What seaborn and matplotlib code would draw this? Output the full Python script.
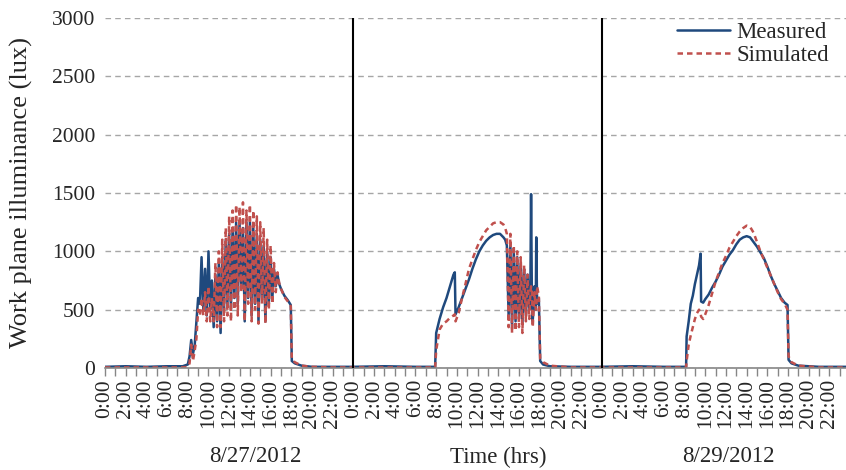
import numpy as np
import pandas as pd
import matplotlib
matplotlib.use("Agg")
import matplotlib.pyplot as plt
import seaborn as sns

# ---------------- data ----------------
series_names = ["Measured", "Simulated"]
group_labels = ["8/27/2012", "Time (hrs)", "8/29/2012"]
group_label_hours = [14.5, 38.0, 60.2]
hour_labels = ["0:00", "2:00", "4:00", "6:00", "8:00", "10:00",
               "12:00", "14:00", "16:00", "18:00", "20:00", "22:00"]

# Day 1 (8/27/2012): hours of day, lux
d1_t = [0, 2, 4, 6, 7.5,
        8.0, 8.17, 8.33, 8.5, 8.67, 8.83,
        9.0, 9.17, 9.33, 9.5, 9.67, 9.83,
        10.0, 10.17, 10.33, 10.5, 10.67, 10.83,
        11.0, 11.17, 11.33, 11.5, 11.67, 11.83,
        12.0, 12.17, 12.33, 12.5, 12.67, 12.83,
        13.0, 13.17, 13.33, 13.5, 13.67, 13.83,
        14.0, 14.17, 14.33, 14.5, 14.67, 14.83,
        15.0, 15.17, 15.33, 15.5, 15.67, 15.83,
        16.0, 16.17, 16.33, 16.5, 16.67, 16.83,
        17.0, 17.33, 17.67, 17.95,
        18.05, 18.33, 19.0, 20.0, 22.0, 23.9]
d1_meas = [10, 15, 10, 15, 15,
           30, 100, 240, 120, 200, 400,
           600, 550, 950, 500, 850, 450,
           1000, 500, 750, 350, 800, 400,
           900, 300, 950, 500, 1100, 550,
           1150, 500, 1200, 600, 1250, 550,
           1250, 700, 1200, 400, 1250, 600,
           1250, 450, 1200, 550, 1150, 400,
           1100, 600, 1050, 400, 1000, 550,
           950, 600, 850, 700, 800, 720,
           680, 620, 580, 540,
           60, 40, 20, 10, 10, 10]
d1_sim = [5, 5, 5, 5, 5,
          10, 40, 200, 60, 150, 250,
          500, 450, 600, 450, 650, 400,
          700, 400, 600, 400, 900, 350,
          1000, 350, 1100, 400, 1200, 450,
          1300, 400, 1350, 500, 1400, 450,
          1380, 650, 1420, 400, 1350, 550,
          1400, 400, 1350, 500, 1300, 380,
          1250, 550, 1200, 380, 1100, 500,
          1050, 550, 900, 650, 820, 730,
          680, 610, 570, 530,
          80, 50, 20, 10, 5, 5]

# Day 2 (8/28/2012)
d2_t = [0, 3, 6, 7.9,
        8.0, 8.33, 8.67, 9.0, 9.33, 9.67, 9.8, 9.87,
        10.17, 10.5, 10.83, 11.17, 11.5, 11.83, 12.17, 12.5, 12.83, 13.17,
        13.5, 13.83, 14.17, 14.5,
        14.67, 14.83, 15.0, 15.17, 15.33, 15.5, 15.67, 15.83, 16.0, 16.17,
        16.33, 16.5, 16.67, 16.83, 17.0,
        17.1, 17.17, 17.25, 17.33, 17.5, 17.62, 17.67, 17.75, 17.92,
        18.05, 18.33, 19.0, 21.0, 23.9]
d2_meas = [10, 15, 10, 10,
           300, 420, 520, 600, 700, 800, 820, 460,
           520, 600, 680, 760, 850, 930, 1000, 1050, 1090, 1120,
           1140, 1150, 1150, 1120,
           1100, 1050, 450, 1050, 350, 1000, 400, 950, 420, 900,
           380, 850, 450, 800, 500,
           650, 1490, 600, 400, 700, 500, 1120, 550, 600,
           60, 30, 15, 10, 10]
d2_sim = [5, 5, 5, 5,
          150, 330, 380, 400, 430, 450, 460, 400,
          470, 600, 720, 850, 930, 1010, 1080, 1130, 1180, 1210,
          1240, 1250, 1250, 1230,
          1200, 1150, 350, 1150, 300, 1050, 320, 1000, 350, 950,
          300, 880, 400, 800, 420,
          650, 700, 650, 350, 650, 500, 500, 700, 620,
          80, 50, 20, 5, 5]

# Day 3 (8/29/2012)
d3_t = [0, 3, 6, 8.15,
        8.2, 8.4, 8.6, 8.8, 9.0, 9.2, 9.4, 9.55, 9.6, 9.8,
        10.0, 10.33, 10.67, 11.0, 11.33, 11.67, 12.0, 12.33, 12.67,
        13.0, 13.33, 13.67, 14.0, 14.33, 14.67, 15.0, 15.33, 15.67,
        16.0, 16.33, 16.67, 17.0, 17.33, 17.67,
        17.95, 18.05, 18.33, 19.0, 21.0, 23.6]
d3_meas = [10, 15, 10, 10,
           270, 400, 550, 620, 720, 800, 880, 980, 570, 560,
           590, 630, 690, 740, 800, 870, 920, 970, 1010,
           1060, 1100, 1120, 1130, 1120, 1080, 1040, 990, 940,
           870, 790, 720, 660, 600, 560,
           540, 70, 40, 20, 10, 10]
d3_sim = [5, 5, 5, 5,
          60, 200, 280, 350, 420, 470, 500, 470, 440, 420,
          460, 540, 640, 740, 820, 900, 960, 1030, 1080,
          1130, 1170, 1200, 1220, 1210, 1160, 1080, 1000, 930,
          860, 790, 720, 650, 590, 550,
          500, 100, 50, 20, 5, 5]

# ---------------- table ----------------
rows = []
for day, (t, m, s) in enumerate([(d1_t, d1_meas, d1_sim),
                                 (d2_t, d2_meas, d2_sim),
                                 (d3_t, d3_meas, d3_sim)]):
    for ti, mi, si in zip(t, m, s):
        rows.append({"hour": day * 24 + ti, "lux": mi, "series": "Measured"})
        rows.append({"hour": day * 24 + ti, "lux": si, "series": "Simulated"})
df = pd.DataFrame(rows)

# ---------------- plot ----------------
sns.set_style("white")
plt.rcParams["font.family"] = ["Liberation Serif", "DejaVu Serif"]
FS = 15.5

W, H = 846, 470
fig = plt.figure(figsize=(W / 100, H / 100), dpi=100)
ax = fig.add_axes([105 / W, 1 - 368 / H, 1 - 105 / W, 350 / H])

sns.lineplot(data=df, x="hour", y="lux", hue="series", style="series",
             hue_order=series_names, style_order=series_names,
             palette={"Measured": "#1F497D", "Simulated": "#C0504D"},
             dashes={"Measured": "", "Simulated": (2.2, 1.6)},
             estimator=None, sort=True, linewidth=1.8, ax=ax)

ax.set_xlim(0, 71.6)
ax.set_ylim(0, 3000)
ax.set_yticks(np.arange(0, 3001, 500))
ax.yaxis.grid(True, color="#A6A6A6", linestyle=(0, (4, 3)), linewidth=1)
ax.xaxis.grid(False)
ax.set_axisbelow(True)

xt = np.arange(0, 72, 1)
xl = []
for d in range(3):
    for h in range(24):
        xl.append(hour_labels[h // 2] if h % 2 == 0 else "")
ax.set_xticks(xt)
ax.set_xticklabels(xl, rotation=90, fontsize=FS)
ax.tick_params(axis="x", length=6, width=1, color="#868686", pad=2, direction="out", bottom=True)
ax.tick_params(axis="y", length=0, labelsize=15.5, pad=7)

for sp in ["left", "top", "right"]:
    ax.spines[sp].set_visible(False)
ax.spines["bottom"].set_color("#868686")
ax.spines["bottom"].set_linewidth(1.2)

for xv in [24, 48]:
    ax.axvline(xv, color="black", linewidth=1.5, zorder=5)

ax.set_xlabel("")
ax.set_ylabel("Work plane illuminance (lux)", fontsize=19)
ax.yaxis.set_label_coords(-0.097, 0.5)

trans = matplotlib.transforms.blended_transform_factory(ax.transData, fig.transFigure)
for lab, hx in zip(group_labels, group_label_hours):
    ax.text(hx, 1 - 457 / H, lab, transform=trans, ha="center", va="center", fontsize=16.5)

handles, labels = ax.get_legend_handles_labels()
hl = [(h, l) for h, l in zip(handles, labels) if l in series_names]
leg = ax.legend([h for h, _ in hl], [l for _, l in hl], loc="upper right",
                bbox_to_anchor=(829 / W, 1 - 22 / H), bbox_transform=fig.transFigure,
                frameon=False, fontsize=16.5, handlelength=2.3, handletextpad=0.3,
                labelspacing=0.1, borderpad=0, borderaxespad=0)

fig.savefig("out.png", dpi=100)
